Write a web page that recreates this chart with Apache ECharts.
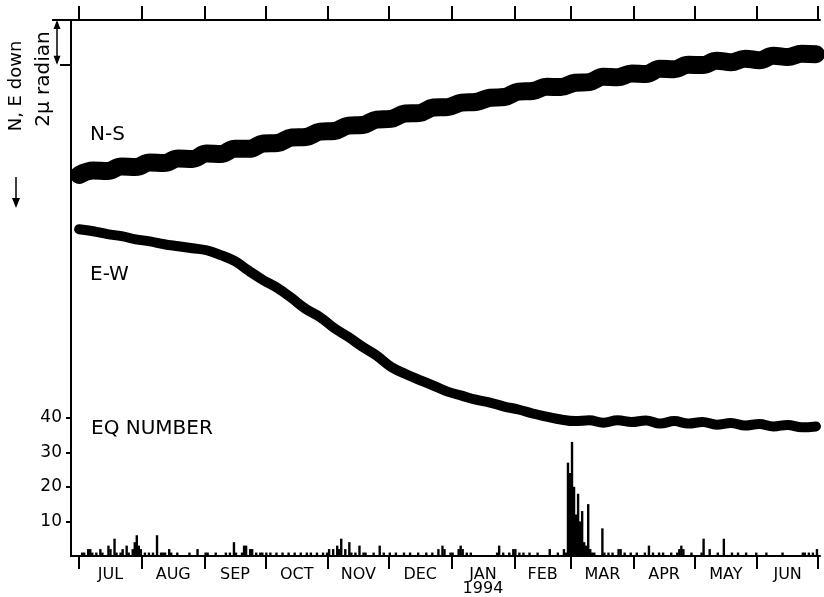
<!DOCTYPE html>
<html>
<head>
<meta charset="utf-8">
<script src="https://cdn.jsdelivr.net/npm/echarts@6/dist/echarts.min.js"></script>
<style>
  html, body { margin: 0; padding: 0; background: #fff; }
  #chart { width: 824px; height: 597px; }
</style>
</head>
<body>
<div id="chart"></div>
<script>
// days counted from 1 Jul 1993
const monthStarts = [0, 31, 62, 92, 123, 153, 184, 215, 243, 274, 304, 335, 365];
const monthNames = ['JUL', 'AUG', 'SEP', 'OCT', 'NOV', 'DEC', 'JAN\n1994', 'FEB', 'MAR', 'APR', 'MAY', 'JUN'];
const eqTicks = [10, 20, 30, 40];

// tilt traces, one sample a week, in micro radian
const nsTilt = [17.06, 17.26, 17.24, 17.44, 17.42, 17.62, 17.60, 17.80, 17.78, 18.02,
  18.00, 18.24, 18.23, 18.47, 18.49, 18.74, 18.76, 19.00, 19.03, 19.27,
  19.30, 19.54, 19.57, 19.81, 19.83, 20.08, 20.10, 20.30, 20.33, 20.52,
  20.55, 20.79, 20.82, 21.01, 21.00, 21.19, 21.22, 21.46, 21.44, 21.60,
  21.58, 21.82, 21.80, 22.00, 21.98, 22.18, 22.11, 22.27, 22.20, 22.40,
  22.34, 22.49, 22.47];
const ewTilt = [14.63, 14.54, 14.41, 14.32, 14.18, 14.09, 13.96, 13.87, 13.78, 13.69,
  13.47, 13.20, 12.76, 12.35, 12.00, 11.55, 11.06, 10.70, 10.21, 9.81,
  9.37, 8.97, 8.47, 8.16, 7.89, 7.63, 7.36, 7.18, 7.00, 6.87,
  6.69, 6.56, 6.38, 6.24, 6.11, 6.04, 6.08, 5.97, 6.08, 6.00,
  6.07, 5.93, 6.04, 5.93, 6.00, 5.88, 5.96, 5.84, 5.91, 5.80,
  5.87, 5.76, 5.80];

// daily earthquake number [day, count]; days not listed had none
const eqDaily = [
  [1, 1], [2, 1], [4, 2], [5, 2], [6, 1], [8, 1], [10, 2], [11, 1], [14, 3], [15, 2],
  [17, 5], [18, 1], [20, 1], [21, 2], [23, 3], [24, 1], [26, 2], [27, 4], [28, 6], [29, 3],
  [30, 2], [32, 1], [34, 1], [36, 1], [38, 6], [40, 1], [41, 1], [42, 1], [44, 2], [45, 1],
  [48, 1], [54, 1], [58, 2], [62, 1], [63, 1], [67, 1], [72, 1], [74, 1], [76, 4], [77, 1],
  [80, 1], [81, 3], [82, 3], [84, 2], [85, 2], [87, 1], [89, 1], [90, 1], [92, 1], [94, 1],
  [97, 1], [100, 1], [103, 1], [106, 1], [109, 1], [112, 1], [114, 1], [117, 1], [120, 1], [122, 1],
  [123, 2], [125, 2], [127, 3], [128, 2], [129, 5], [131, 2], [133, 4], [134, 1], [136, 1], [138, 3],
  [140, 1], [141, 1], [145, 1], [148, 3], [150, 1], [153, 1], [156, 1], [160, 1], [163, 1], [167, 1],
  [171, 1], [174, 1], [177, 2], [179, 3], [180, 2], [183, 1], [184, 1], [187, 2], [188, 3], [189, 2],
  [191, 1], [193, 1], [206, 1], [207, 3], [209, 1], [212, 1], [214, 2], [215, 2], [217, 1], [219, 1],
  [222, 1], [226, 1], [232, 2], [236, 1], [239, 2], [240, 1], [241, 27], [242, 24], [243, 33], [244, 20],
  [245, 12], [246, 18], [247, 10], [248, 13], [249, 4], [250, 3], [251, 15], [252, 2], [253, 1], [254, 1],
  [258, 8], [259, 1], [261, 1], [263, 1], [266, 2], [267, 2], [269, 1], [272, 1], [275, 1], [279, 1],
  [281, 3], [283, 1], [286, 1], [288, 1], [292, 1], [295, 1], [296, 2], [297, 3], [298, 2], [302, 1],
  [307, 1], [308, 5], [311, 2], [315, 1], [318, 5], [322, 1], [325, 1], [329, 1], [334, 1], [339, 1],
  [347, 1], [357, 1], [358, 1], [360, 1], [362, 1], [364, 2]
];

const FONT = 'DejaVu Sans';
const INK = '#000';
const monthMids = monthNames.map((_, i) => (monthStarts[i] + monthStarts[i + 1]) / 2);
const axisLine = { show: true, onZero: false, lineStyle: { color: INK, width: 2 } };

const chart = echarts.init(document.getElementById('chart'));

const option = {
  animation: false,
  backgroundColor: '#fff',
  grid: { left: 71, right: 4, top: 20, bottom: 40 },
  xAxis: [
    {
      type: 'value', position: 'bottom', min: -4, max: 366,
      axisLine,
      axisTick: { customValues: monthStarts, length: 13, lineStyle: { color: INK, width: 2 } },
      axisLabel: {
        customValues: monthMids, margin: 12, color: INK, fontFamily: FONT, fontSize: 16, lineHeight: 14,
        formatter: v => monthNames[monthMids.indexOf(v)]
      },
      splitLine: { show: false }
    },
    {
      type: 'value', position: 'top', min: -4, max: 366,
      axisLine,
      axisTick: { customValues: monthStarts, length: 14, lineStyle: { color: INK, width: 2 } },
      axisLabel: { show: false },
      splitLine: { show: false }
    }
  ],
  yAxis: [
    {
      // EQ number
      type: 'value', position: 'left', min: 0, max: 155,
      axisLine,
      axisTick: { customValues: eqTicks, length: 5, lineStyle: { color: INK, width: 2 } },
      axisLabel: { customValues: eqTicks, margin: 9, color: INK, fontFamily: FONT, fontSize: 17 },
      splitLine: { show: false }
    },
    {
      // tilt, hidden except the 2 micro radian mark
      type: 'value', position: 'left', min: 0, max: 24,
      axisLine: { show: false, onZero: false },
      axisTick: { customValues: [22], length: 11, lineStyle: { color: INK, width: 2 } },
      axisLabel: { show: false },
      splitLine: { show: false }
    }
  ],
  series: [
    {
      name: 'EQ NUMBER', type: 'bar', xAxisIndex: 0, yAxisIndex: 0,
      data: eqDaily.map(d => [d[0] + 0.5, d[1]]),
      barWidth: 2.4, itemStyle: { color: INK }
    },
    {
      name: 'N-S', type: 'line', xAxisIndex: 0, yAxisIndex: 1,
      data: nsTilt.map((v, i) => [i * 7, v]),
      smooth: 0.4, showSymbol: false,
      lineStyle: { color: INK, width: 18, cap: 'round', join: 'round' }
    },
    {
      name: 'E-W', type: 'line', xAxisIndex: 0, yAxisIndex: 1,
      data: ewTilt.map((v, i) => [i * 7, v]),
      smooth: 0.4, showSymbol: false,
      lineStyle: { color: INK, width: 10, cap: 'round', join: 'round' }
    }
  ]
};

chart.setOption(option);

// labels and the 2 micro radian scale bar
const yTop = chart.convertToPixel({ yAxisIndex: 1 }, 24);
const yTwo = chart.convertToPixel({ yAxisIndex: 1 }, 22);
const barX = 57;
const txt = (text, x, y, size) => ({
  type: 'text', x, y,
  style: { text, fill: INK, fontFamily: FONT, fontSize: size, verticalAlign: 'middle' }
});

chart.setOption({
  graphic: [
    txt('N-S', 90, 135, 20),
    txt('E-W', 90, 275, 20),
    txt('EQ NUMBER', 91, 429, 20),
    { type: 'text', x: 16, y: 86, rotation: Math.PI / 2,
      style: { text: 'N, E down', fill: INK, fontFamily: FONT, fontSize: 18, align: 'center', verticalAlign: 'middle' } },
    { type: 'text', x: 44, y: 79, rotation: Math.PI / 2,
      style: { text: '2\u03bc radian', fill: INK, fontFamily: FONT, fontSize: 20, align: 'center', verticalAlign: 'middle' } },
    { type: 'line', shape: { x1: barX, y1: yTop + 2, x2: barX, y2: yTwo - 2 }, style: { stroke: INK, lineWidth: 1.5 } },
    { type: 'polygon', shape: { points: [[barX, yTop], [barX - 3.5, yTop + 9], [barX + 3.5, yTop + 9]] }, style: { fill: INK } },
    { type: 'polygon', shape: { points: [[barX, yTwo], [barX - 3.5, yTwo - 9], [barX + 3.5, yTwo - 9]] }, style: { fill: INK } },
    { type: 'line', shape: { x1: 52, y1: yTop, x2: 71, y2: yTop }, style: { stroke: INK, lineWidth: 2 } },
    // downward arrow
    { type: 'line', shape: { x1: 16, y1: 177, x2: 16, y2: 200 }, style: { stroke: INK, lineWidth: 1.5 } },
    { type: 'polygon', shape: { points: [[16, 208], [12, 198], [20, 198]] }, style: { fill: INK } }
  ]
});
</script>
</body>
</html>
